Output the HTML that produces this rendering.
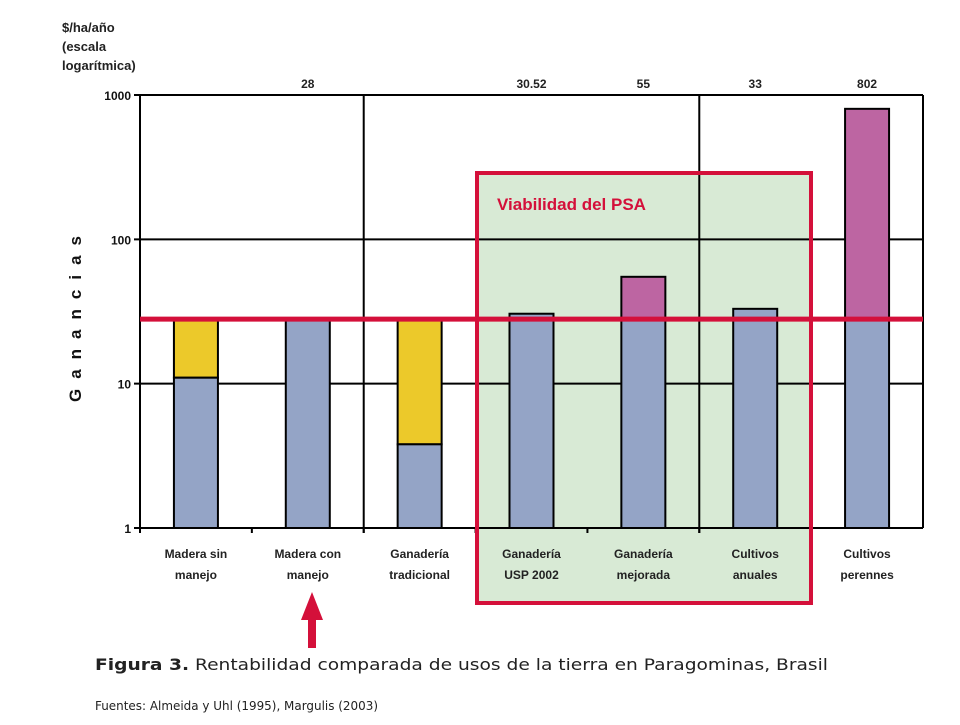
<!DOCTYPE html>
<html><head><meta charset="utf-8"><style>
body{margin:0;background:#fff;width:960px;height:720px;overflow:hidden;font-family:"Liberation Sans",sans-serif}
</style></head><body>
<svg width="960" height="720" viewBox="0 0 960 720" xmlns="http://www.w3.org/2000/svg">
<g id="bg"></g>
<g id="grid"></g>
<g id="bars"></g>
<g id="over"></g>
<text x="62" y="32" font-size="13" font-weight="bold" fill="#222">$/ha/año</text>
<text x="62" y="51" font-size="13" font-weight="bold" fill="#222">(escala</text>
<text x="62" y="70" font-size="13" font-weight="bold" fill="#222">logarítmica)</text>
<text transform="translate(81,314) rotate(-90)" text-anchor="middle" font-size="17" font-weight="bold" letter-spacing="10" fill="#111">Ganancias</text>
<text x="497" y="210" font-size="17" font-weight="bold" fill="#d4103a">Viabilidad del PSA</text>
<polygon points="312,592 301,620 308,620 308,648 316,648 316,620 323,620" fill="#d4103a"/>
<text x="95" y="670" font-size="16" fill="#222" textLength="733" lengthAdjust="spacingAndGlyphs" font-family="'DejaVu Sans',sans-serif"><tspan font-weight="bold">Figura 3.</tspan>  Rentabilidad comparada de usos de la tierra en Paragominas, Brasil</text>
<text x="95" y="710" font-size="12.5" fill="#222" textLength="283" lengthAdjust="spacingAndGlyphs" font-family="'DejaVu Sans',sans-serif">Fuentes: Almeida y Uhl (1995), Margulis (2003)</text>
</svg>
<script>
const categories=[["Madera sin","manejo"],["Madera con","manejo"],["Ganadería","tradicional"],["Ganadería","USP 2002"],["Ganadería","mejorada"],["Cultivos","anuales"],["Cultivos","perennes"]];
const baseValues=[11,28,3.8,30.52,28,33,28];
const topValues=[28,28,28,30.52,55,33,802];
const topColors=["#ecc92a","#94a4c6","#ecc92a","#94a4c6","#bd65a2","#94a4c6","#bd65a2"];
const printedLabels=["","28","","30.52","55","33","802"];
const yTicks=[1,10,100,1000];
const threshold=28;
const NS="http://www.w3.org/2000/svg";
const L=140,R=923,T=95,B=528;
const band=(R-L)/categories.length;
const y=v=>B-(Math.log10(v)/3)*(B-T);
const xc=i=>L+band*(i+0.5);
function mk(p,tag,a){const e=document.createElementNS(NS,tag);for(const k in a)e.setAttribute(k,a[k]);p.appendChild(e);return e;}
const bg=document.getElementById('bg'),grid=document.getElementById('grid'),bars=document.getElementById('bars'),over=document.getElementById('over');
const box=mk(bg,'rect',{x:477,y:173,width:334,height:430,fill:'#d8ead5'});


yTicks.forEach(t=>{
 const ln=mk(grid,'line',{x1:L-6,x2:R,y1:y(t),y2:y(t),stroke:'#000','stroke-width':2});
 
 
 const tx=mk(grid,'text',{x:L-9,y:y(t)+5,'text-anchor':'end','font-size':12,'font-weight':'bold',fill:'#111'});
 tx.textContent=t;
 
 
});
[[L,T,L,B+5],[R,T,R,B],[L+band*2,T,L+band*2,B+5],[L+band*5,T,L+band*5,B+5]].forEach(c=>{
 const ln=mk(grid,'line',{x1:c[0],y1:c[1],x2:c[2],y2:c[3],stroke:'#000','stroke-width':2});
 
 
});
for(let i=1;i<7;i++){const tk=mk(grid,'line',{x1:L+band*i,x2:L+band*i,y1:B,y2:B+5,stroke:'#000','stroke-width':2});
 
 }
const bw=44;
categories.forEach((c,i)=>{
 const x=xc(i)-bw/2;
 if(topValues[i]>baseValues[i]){
  const r=mk(bars,'rect',{x:x,y:y(topValues[i]),width:bw,height:y(baseValues[i])-y(topValues[i]),fill:topColors[i],stroke:'#000','stroke-width':2});
  
  
 }
 const b=mk(bars,'rect',{x:x,y:y(baseValues[i]),width:bw,height:B-y(baseValues[i]),fill:'#94a4c6',stroke:'#000','stroke-width':2});
 
 
 if(printedLabels[i]){const t=mk(bars,'text',{x:xc(i),y:Math.min(y(topValues[i])-9,T-7),'text-anchor':'middle','font-size':12,'font-weight':'bold',fill:'#222'});
  t.textContent=printedLabels[i];
  
  }
 c.forEach((s,k)=>{const t=mk(bars,'text',{x:xc(i),y:558+k*21,'text-anchor':'middle','font-size':12,'font-weight':'bold',fill:'#222'});
  t.textContent=s;
  
  });
});
const th=mk(over,'line',{x1:L,x2:R,y1:y(threshold),y2:y(threshold),stroke:'#d4103a','stroke-width':5});


const bx=mk(over,'rect',{x:477,y:173,width:334,height:430,fill:'none',stroke:'#d4103a','stroke-width':4});


</script>
</body></html>
